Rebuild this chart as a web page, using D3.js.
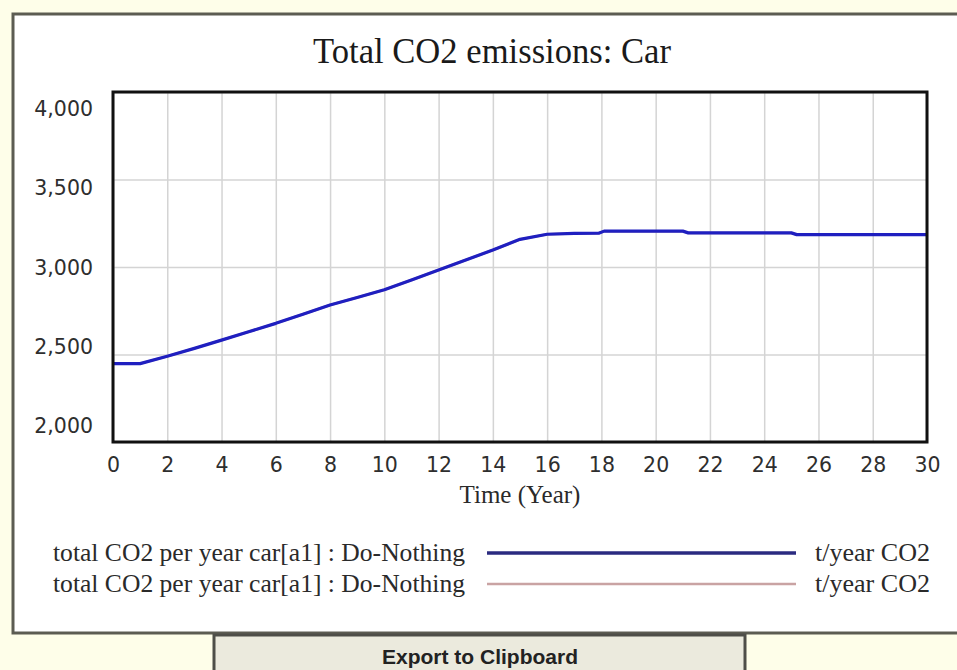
<!DOCTYPE html>
<html>
<head>
<meta charset="utf-8">
<script src="https://cdn.jsdelivr.net/npm/d3@7"></script>
<style>
  html, body { margin: 0; padding: 0; background: #fefee9; }
  svg { display: block; }
</style>
</head>
<body>
<svg id="chart" width="957" height="670"></svg>
<script>
// ---- data ----
const chartTitle = "Total CO2 emissions: Car";
const xAxisTitle = "Time (Year)";
const years = [0, 1, 2, 3, 4, 5, 6, 7, 8, 9, 10, 11, 12, 13, 14, 15, 16, 17, 17.9, 18.1, 21, 21.2, 25, 25.2, 30];
const co2Blue = [2448, 2448, 2490, 2535, 2582, 2630, 2678, 2730, 2783, 2826, 2870, 2926, 2983, 3040, 3097, 3158, 3187, 3192, 3193, 3205, 3205, 3195, 3195, 3185, 3185];
const co2Pink = [2448, 2448, 2490, 2535, 2582, 2630, 2678, 2730, 2783, 2826, 2870, 2926, 2983, 3040, 3097, 3158, 3187, 3192, 3193, 3205, 3205, 3195, 3195, 3185, 3185];
const xTicks = [0, 2, 4, 6, 8, 10, 12, 14, 16, 18, 20, 22, 24, 26, 28, 30];
const yTicks = [2000, 2500, 3000, 3500, 4000];
const legendNames = ["total CO2 per year car[a1] : Do-Nothing", "total CO2 per year car[a1] : Do-Nothing"];
const legendUnits = ["t/year CO2", "t/year CO2"];
const buttonLabel = "Export to Clipboard";

// ---- layout ----
const svg = d3.select("#chart");
const W = 957, H = 670;
const plot = { left: 113, right: 927, top: 92, bottom: 442 };

svg.append("rect").attr("x", 0).attr("y", 0).attr("width", W).attr("height", H).attr("fill", "#fefee9");

// panel
svg.append("rect")
  .attr("x", 13).attr("y", 14).attr("width", 970).attr("height", 619)
  .attr("fill", "#ffffff").attr("stroke", "#5c5c52").attr("stroke-width", 3);

const x = d3.scaleLinear().domain([0, 30]).range([plot.left, plot.right]);
const y = d3.scaleLinear().domain([2000, 4000]).range([plot.bottom, plot.top]);
// Vensim keeps the value labels inside the frame: labels use a slightly compressed scale
const yLabel = d3.scaleLinear().domain([2000, 4000]).range([426, 109]);

// plot background
svg.append("rect").attr("x", plot.left).attr("y", plot.top)
  .attr("width", plot.right - plot.left).attr("height", plot.bottom - plot.top)
  .attr("fill", "#ffffff");

// grid lines
svg.append("g")
  .attr("transform", `translate(0,${plot.bottom})`)
  .call(d3.axisBottom(x).tickValues(xTicks).tickSize(-(plot.bottom - plot.top)).tickFormat(""))
  .call(g => g.select(".domain").remove())
  .call(g => g.selectAll("line").attr("stroke", "#d4d4d4").attr("stroke-width", 1.5));

svg.append("g")
  .attr("transform", `translate(${plot.left},0)`)
  .call(d3.axisLeft(y).tickValues(yTicks).tickSize(-(plot.right - plot.left)).tickFormat(""))
  .call(g => g.select(".domain").remove())
  .call(g => g.selectAll("line").attr("stroke", "#d4d4d4").attr("stroke-width", 1.5));

// tick labels
const fmt = d3.format(",");
svg.append("g")
  .attr("transform", `translate(93,0)`)
  .call(d3.axisLeft(yLabel).tickValues(yTicks).tickSize(0).tickPadding(0).tickFormat(fmt))
  .call(g => g.select(".domain").remove())
  .call(g => g.selectAll("text")
    .attr("font-family", "DejaVu Sans, sans-serif").attr("font-size", 20.5).attr("fill", "#2e2e2e"));

svg.append("g")
  .attr("transform", `translate(0,${plot.bottom})`)
  .call(d3.axisBottom(x).tickValues(xTicks).tickSize(0).tickPadding(15).tickFormat(d3.format("d")))
  .call(g => g.select(".domain").remove())
  .call(g => g.selectAll("text")
    .attr("font-family", "DejaVu Sans, sans-serif").attr("font-size", 20.5).attr("fill", "#2e2e2e"));

// lines
const line = d3.line().x((d, i) => x(years[i])).y(d => y(d));
svg.append("path").datum(co2Pink).attr("d", line)
  .attr("fill", "none").attr("stroke", "#c9a3a3").attr("stroke-width", 2.5);
svg.append("path").datum(co2Blue).attr("d", line)
  .attr("fill", "none").attr("stroke", "#1f1fc0").attr("stroke-width", 3.2)
  .attr("stroke-linejoin", "round");

// frame
svg.append("rect").attr("x", plot.left).attr("y", plot.top)
  .attr("width", plot.right - plot.left).attr("height", plot.bottom - plot.top)
  .attr("fill", "none").attr("stroke", "#111111").attr("stroke-width", 3);

// title
svg.append("text").attr("x", 492).attr("y", 63).attr("text-anchor", "middle")
  .attr("font-family", "Liberation Serif, serif").attr("font-size", 36).attr("fill", "#1a1a1a")
  .attr("textLength", 358).attr("lengthAdjust", "spacingAndGlyphs")
  .text(chartTitle);

svg.append("text").attr("x", 520).attr("y", 503).attr("text-anchor", "middle")
  .attr("font-family", "Liberation Serif, serif").attr("font-size", 25).attr("fill", "#2a2a2a")
  .text(xAxisTitle);

// legend
const legendColors = ["#2b2b80", "#c9a3a3"];
const legendWidths = [3.5, 2.5];
const legendY = [553, 584];
legendNames.forEach((name, i) => {
  svg.append("text").attr("x", 53).attr("y", legendY[i] + 8)
    .attr("font-family", "Liberation Serif, serif").attr("font-size", 26).attr("fill", "#2a2a2a")
    .attr("textLength", 412).attr("lengthAdjust", "spacingAndGlyphs")
    .text(name);
  svg.append("line").attr("x1", 487).attr("x2", 796).attr("y1", legendY[i]).attr("y2", legendY[i])
    .attr("stroke", legendColors[i]).attr("stroke-width", legendWidths[i]);
  svg.append("text").attr("x", 815).attr("y", legendY[i] + 8)
    .attr("font-family", "Liberation Serif, serif").attr("font-size", 26).attr("fill", "#2a2a2a")
    .attr("textLength", 115).attr("lengthAdjust", "spacingAndGlyphs")
    .text(legendUnits[i]);
});

// button
svg.append("rect").attr("x", 214).attr("y", 635).attr("width", 531).attr("height", 50)
  .attr("fill", "#ebeadd").attr("stroke", "#4e4e48").attr("stroke-width", 3);
svg.append("text").attr("x", 480).attr("y", 664).attr("text-anchor", "middle")
  .attr("font-family", "Liberation Sans, Arial, sans-serif").attr("font-weight", "bold")
  .attr("font-size", 21).attr("fill", "#222222")
  .text(buttonLabel);
</script>
</body>
</html>
